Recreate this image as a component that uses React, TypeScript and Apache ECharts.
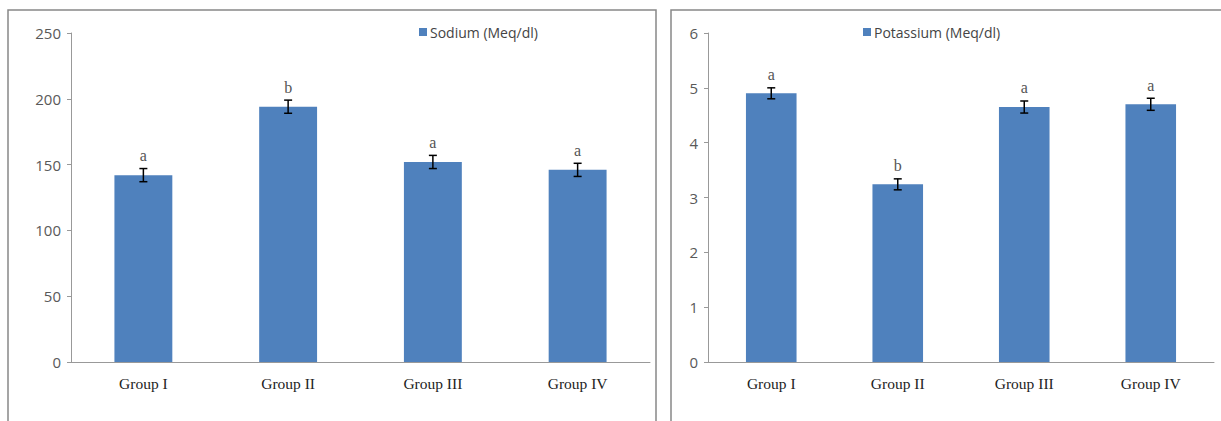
import React, { useEffect, useRef } from "react";
import * as echarts from "echarts";

const groups = ["Group I", "Group II", "Group III", "Group IV"];
const sodium = [142, 194, 152, 146];
const sodiumErr = [5, 5, 5, 5];
const sodiumLetters = ["a", "b", "a", "a"];
const potassium = [4.9, 3.24, 4.65, 4.7];
const potassiumErr = [0.1, 0.1, 0.11, 0.11];
const potassiumLetters = ["a", "b", "a", "a"];

const BAR = "#4F81BD";

function errSeries(name: string, gridIdx: number, vals: number[], errs: number[], letters: string[]) {
  return {
    type: "custom",
    name: name + " err",
    xAxisIndex: gridIdx,
    yAxisIndex: gridIdx,
    z: 5,
    data: vals.map((v, i) => [i, v, errs[i]]),
    renderItem: (params: any, api: any) => {
      const x = api.value(0);
      const m = api.value(1);
      const e = api.value(2);
      const top = api.coord([x, m + e]);
      const bot = api.coord([x, m - e]);
      const cx = top[0];
      const cap = 4;
      const ls = { stroke: "#000", lineWidth: 1.5 };
      return {
        type: "group",
        children: [
          { type: "line", shape: { x1: cx, y1: top[1], x2: cx, y2: bot[1] }, style: ls },
          { type: "line", shape: { x1: cx - cap, y1: top[1], x2: cx + cap, y2: top[1] }, style: ls },
          { type: "line", shape: { x1: cx - cap, y1: bot[1], x2: cx + cap, y2: bot[1] }, style: ls },
          {
            type: "text",
            style: {
              text: letters[params.dataIndex],
              x: cx,
              y: top[1] - 5,
              align: "center",
              verticalAlign: "bottom",
              fill: "#555",
              font: "16px 'Liberation Serif', serif",
            },
          },
        ],
      };
    },
  };
}

export default function App() {
  const ref = useRef<HTMLDivElement>(null);
  useEffect(() => {
    if (!ref.current) return;
    const chart = echarts.init(ref.current, null, { renderer: "svg" });
    const yLabel = { color: "#595959", fontSize: 15, fontFamily: "'Open Sans', sans-serif", margin: 10 };
    const xLabel = { color: "#222", fontSize: 15.5, fontFamily: "'Liberation Serif', serif", margin: 13 };
    const axisLine = { show: true, lineStyle: { color: "#999", width: 1 } };
    const legendText = { color: "#444", fontSize: 14, fontFamily: "'Open Sans', sans-serif", padding: [0, 0, 0, -2] };
    chart.setOption({
      animation: false,
      backgroundColor: "#fff",
      graphic: [
        { type: "rect", shape: { x: 8, y: 10, width: 648, height: 430 }, style: { fill: "none", stroke: "#888", lineWidth: 1.5 } },
        { type: "rect", shape: { x: 671, y: 10, width: 600, height: 430 }, style: { fill: "none", stroke: "#888", lineWidth: 1.5 } },
      ],
      legend: [
        {
          left: 414,
          top: 20,
          icon: "rect",
          itemWidth: 8,
          itemHeight: 8,
          data: ["Sodium (Meq/dl)"],
          textStyle: legendText,
        },
        {
          left: 858,
          top: 20,
          icon: "rect",
          itemWidth: 8,
          itemHeight: 8,
          data: ["Potassium (Meq/dl)"],
          textStyle: legendText,
        },
      ],
      grid: [
        { left: 71, right: 1221 - 650, top: 33, bottom: 421 - 362 },
        { left: 708, right: 1221 - 1214, top: 33, bottom: 421 - 362 },
      ],
      xAxis: [0, 1].map((g) => ({
        type: "category",
        gridIndex: g,
        data: groups,
        axisLine,
        axisTick: { show: false },
        axisLabel: xLabel,
      })),
      yAxis: [
        {
          type: "value",
          gridIndex: 0,
          min: 0,
          max: 250,
          interval: 50,
          axisLine,
          axisTick: { show: true, length: 4, lineStyle: { color: "#999" } },
          splitLine: { show: false },
          axisLabel: yLabel,
        },
        {
          type: "value",
          gridIndex: 1,
          min: 0,
          max: 6,
          interval: 1,
          axisLine,
          axisTick: { show: true, length: 4, lineStyle: { color: "#999" } },
          splitLine: { show: false },
          axisLabel: yLabel,
        },
      ],
      series: [
        {
          type: "bar",
          name: "Sodium (Meq/dl)",
          xAxisIndex: 0,
          yAxisIndex: 0,
          data: sodium,
          barWidth: "40%",
          itemStyle: { color: BAR },
        },
        {
          type: "bar",
          name: "Potassium (Meq/dl)",
          xAxisIndex: 1,
          yAxisIndex: 1,
          data: potassium,
          barWidth: "40%",
          itemStyle: { color: BAR },
        },
        errSeries("Sodium", 0, sodium, sodiumErr, sodiumLetters),
        errSeries("Potassium", 1, potassium, potassiumErr, potassiumLetters),
      ],
    });
    return () => chart.dispose();
  }, []);
  return <div ref={ref} style={{ position: "fixed", left: 0, top: 0, width: 1221, height: 421 }} />;
}
